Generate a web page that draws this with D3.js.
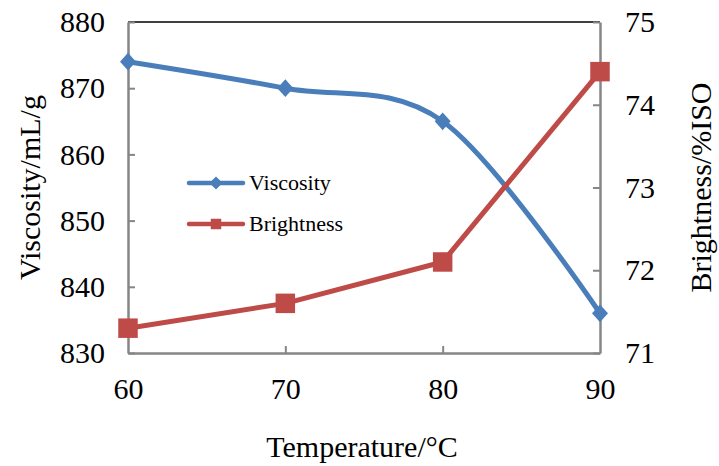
<!DOCTYPE html>
<html>
<head>
<meta charset="utf-8">
<script src="https://cdn.jsdelivr.net/npm/d3@7"></script>
<style>
  body { margin: 0; background: #fff; }
  text { font-family: "Liberation Serif", "Times New Roman", serif; fill: #000; }
</style>
</head>
<body>
<div id="chart"></div>
<script>
// data
var temperatures = [60, 70, 80, 90];
var viscosity = [874, 870, 865, 836];
var brightness = [71.3, 71.6, 72.1, 74.4];
var viscosityTicks = [830, 840, 850, 860, 870, 880];
var brightnessTicks = [71, 72, 73, 74, 75];
var seriesNames = ["Viscosity", "Brightness"];

var W = 719, H = 466;
var plotLeft = 128, plotRight = 600, plotTop = 22, plotBottom = 353;
var blue = "#4a7ebb", red = "#be4b48", axisGray = "#868686";

var svg = d3.select("#chart").append("svg")
    .attr("width", W)
    .attr("height", H);

var x = d3.scaleLinear().domain([60, 90]).range([plotLeft, plotRight]);
var yL = d3.scaleLinear().domain([830, 880]).range([plotBottom, plotTop]);
var yR = d3.scaleLinear().domain([71, 75]).range([plotBottom, plotTop]);

// top border
svg.append("line")
    .attr("x1", plotLeft).attr("x2", plotRight)
    .attr("y1", plotTop).attr("y2", plotTop)
    .attr("stroke", "#000").attr("stroke-width", 1.5);

function styleAxis(g) {
    g.attr("font-family", "Liberation Serif, Times New Roman, serif").attr("font-size", 30);
    g.select(".domain").attr("stroke", axisGray).attr("stroke-width", 2.5);
    g.selectAll(".tick line").attr("stroke", axisGray).attr("stroke-width", 2);
    g.selectAll(".tick text").attr("fill", "#000");
}

var fmt = d3.format("d");

var axL = svg.append("g")
    .attr("transform", "translate(" + plotLeft + ",0)")
    .call(d3.axisLeft(yL).tickValues(viscosityTicks).tickFormat(fmt).tickSizeInner(-7).tickSizeOuter(0).tickPadding(23));
styleAxis(axL);

var axR = svg.append("g")
    .attr("transform", "translate(" + plotRight + ",0)")
    .call(d3.axisRight(yR).tickValues(brightnessTicks).tickFormat(fmt).tickSizeInner(-7).tickSizeOuter(0).tickPadding(25));
styleAxis(axR);

var axB = svg.append("g")
    .attr("transform", "translate(0," + plotBottom + ")")
    .call(d3.axisBottom(x).tickValues(temperatures).tickFormat(fmt).tickSizeInner(-7).tickSizeOuter(0).tickPadding(25));
styleAxis(axB);
axB.selectAll(".tick line").filter(function (d) { return d == 60 || d == 90; }).remove();

// axis titles
svg.append("text")
    .attr("transform", "translate(40," + ((plotTop + plotBottom) / 2) + ") rotate(-90)")
    .attr("text-anchor", "middle")
    .style("font-size", "30px")
    .text("Viscosity/mL/g");
svg.append("text")
    .attr("transform", "translate(711," + ((plotTop + plotBottom) / 2) + ") rotate(-90)")
    .attr("text-anchor", "middle")
    .style("font-size", "30px")
    .text("Brightness/%ISO");
svg.append("text")
    .attr("x", (plotLeft + plotRight) / 2 - 2).attr("y", 457)
    .attr("text-anchor", "middle")
    .style("font-size", "30px")
    .text("Temperature/°C");

// lines: viscosity smoothed, brightness straight segments
var lineL = d3.line()
    .x(function (d, i) { return x(temperatures[i]); })
    .y(function (d) { return yL(d); })
    .curve(d3.curveCardinal.tension(0));
var lineR = d3.line()
    .x(function (d, i) { return x(temperatures[i]); })
    .y(function (d) { return yR(d); });

svg.append("path").attr("d", lineL(viscosity))
    .attr("fill", "none").attr("stroke", blue).attr("stroke-width", 5);
svg.append("path").attr("d", lineR(brightness))
    .attr("fill", "none").attr("stroke", red).attr("stroke-width", 5)
    .attr("stroke-linejoin", "round");

var diamond = d3.symbol().type(d3.symbolDiamond2).size(200);
var square = d3.symbol().type(d3.symbolSquare).size(380);

svg.selectAll(".vm").data(viscosity).enter().append("path")
    .attr("transform", function (d, i) { return "translate(" + x(temperatures[i]) + "," + yL(d) + ") scale(0.9,1)"; })
    .attr("d", diamond)
    .attr("fill", blue);
svg.selectAll(".bm").data(brightness).enter().append("path")
    .attr("transform", function (d, i) { return "translate(" + x(temperatures[i]) + "," + yR(d) + ")"; })
    .attr("d", square)
    .attr("fill", red);

// legend
var legend = svg.append("g");
var colors = [blue, red];
var markers = [d3.symbol().type(d3.symbolDiamond2).size(110), d3.symbol().type(d3.symbolSquare).size(110)];
seriesNames.forEach(function (name, i) {
    var ly = 183 + i * 41;
    legend.append("line")
        .attr("x1", 189).attr("x2", 243)
        .attr("y1", ly).attr("y2", ly)
        .attr("stroke", colors[i]).attr("stroke-width", 4.5)
        .attr("stroke-linecap", "round");
    legend.append("path")
        .attr("transform", "translate(216," + ly + ")")
        .attr("d", markers[i])
        .attr("fill", colors[i]);
    legend.append("text")
        .attr("x", 249).attr("y", ly + 7)
        .style("font-size", "22px")
        .text(name);
});
</script>
</body>
</html>
